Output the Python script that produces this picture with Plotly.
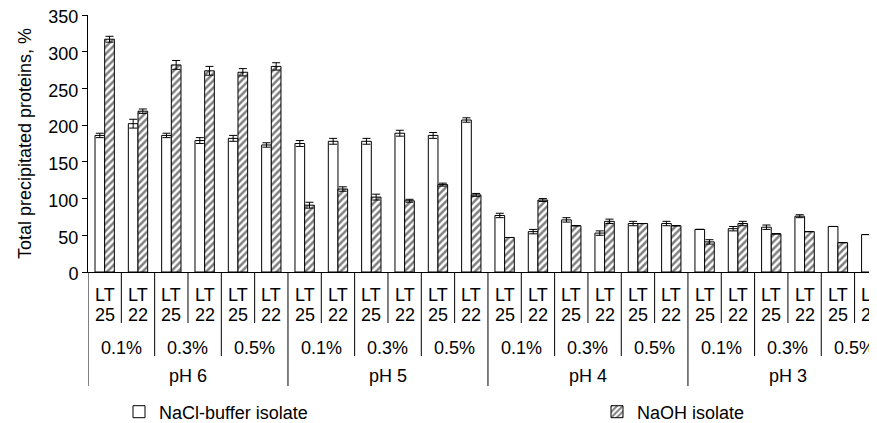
import plotly.graph_objects as go

# ---- data ----
ph_labels = ["pH 6", "pH 5", "pH 4", "pH 3"]
conc_labels = ["0.1%", "0.3%", "0.5%"]
lt_labels = ["25", "22"]

nacl = [186, 202, 186, 179, 182, 173,
        175, 178, 178, 189, 186, 207,
        77, 55, 71, 53, 66, 66,
        58, 59, 61, 76, 62, 51]
naoh = [317, 219, 282, 274, 272, 280,
        91, 113, 102, 97, 119, 105,
        47, 98, 63, 69, 66, 63,
        41, 66, 52, 55, 40, 51]
nacl_err = [3, 6, 3, 4, 4, 3,
            4, 4, 4, 4, 4, 3,
            3, 3, 3, 3, 3, 3,
            0, 3, 3, 2, 0, 0]
naoh_err = [4, 3, 6, 6, 5, 5,
            4, 3, 4, 2, 2, 2,
            0, 2, 0, 3, 0, 0,
            3, 3, 0, 0, 0, 0]

series_names = ["NaCl-buffer isolate", "NaOH isolate"]
y_title = "Total precipitated proteins, %"

# ---- layout helpers ----
W, H = 877, 423
OFF = 8                      # page body margin of the html page
ML = 88 - OFF                # y axis at page x=88
MT = 15 - OFF                # top of axis at page y=15
ZERO = 272 - OFF             # zero line at page y=272
MB = H - ZERO
PLOT_H = ZERO - MT
PLOT_W = W - ML
CAT_W = 33.33
FONT = "Liberation Sans, Arial, sans-serif"
FS = 18

def py(p):
    """page pixel row -> paper y"""
    return (ZERO - (p - OFF)) / PLOT_H

def px(p):
    """page pixel column -> paper x"""
    return ((p - OFF) - ML) / PLOT_W

n = len(nacl)
xs = list(range(n))

fig = go.Figure()
fig.add_trace(go.Bar(
    x=xs, y=nacl, name=series_names[0],
    marker=dict(color="white", line=dict(color="black", width=1)),
    error_y=dict(type="data", array=nacl_err, color="black", thickness=1, width=4),
    legend="legend",
))
fig.add_trace(go.Bar(
    x=xs, y=naoh, name=series_names[1],
    marker=dict(color="white", line=dict(color="black", width=1),
                pattern=dict(shape="/", fgcolor="black", bgcolor="white", size=5, solidity=0.5)),
    error_y=dict(type="data", array=naoh_err, color="black", thickness=1, width=4),
    legend="legend2",
))

# category labels
annotations = []
shapes = []
idx = 0
for pi, ph in enumerate(ph_labels):
    for ci, conc in enumerate(conc_labels):
        for li, lt in enumerate(lt_labels):
            annotations.append(dict(x=idx, y=py(294.5), xref="x", yref="paper", text="LT",
                                    showarrow=False, yanchor="middle", xanchor="center"))
            annotations.append(dict(x=idx, y=py(314.5), xref="x", yref="paper", text=lt,
                                    showarrow=False, yanchor="middle", xanchor="center"))
            idx += 1
        annotations.append(dict(x=idx - 1.5, y=py(347.5), xref="x", yref="paper", text=conc,
                                showarrow=False, yanchor="middle", xanchor="center"))
    annotations.append(dict(x=idx - 3.5, y=py(375.5), xref="x", yref="paper", text=ph,
                            showarrow=False, yanchor="middle", xanchor="center"))

# separator lines
for k in range(n + 1):
    if k % 6 == 0:
        end = 386
    elif k % 2 == 0:
        end = 356
    else:
        end = 323
    shapes.append(dict(type="line", xref="x", yref="paper", x0=k - 0.5, x1=k - 0.5,
                       y0=0, y1=py(end), line=dict(color="black", width=1)))

x_right = -0.5 + PLOT_W / CAT_W

fig.update_layout(
    width=W, height=H,
    margin=dict(l=ML, r=0, t=MT, b=MB, autoexpand=False),
    paper_bgcolor="white", plot_bgcolor="white",
    font=dict(family=FONT, size=FS, color="black"),
    barmode="group", bargap=0.42, bargroupgap=0,
    annotations=annotations, shapes=shapes,
    xaxis=dict(range=[-0.5, x_right], showticklabels=False, showgrid=False, zeroline=False,
               showline=True, linecolor="black", linewidth=1, ticks="", automargin=False),
    yaxis=dict(range=[0, 350], dtick=50, showgrid=False, zeroline=False,
               showline=True, linecolor="black", linewidth=1, automargin=False,
               ticks="outside", ticklen=5, tickcolor="black",
               ticklabeloverflow="allow", ticklabelshift=2,
               title=dict(text=y_title, standoff=12, font=dict(size=FS))),
    legend=dict(orientation="h", x=px(119), y=py(412), xanchor="left",
                yanchor="middle", bgcolor="rgba(0,0,0,0)", font=dict(size=FS)),
    legend2=dict(orientation="h", x=px(597), y=py(412), xanchor="left",
                 yanchor="middle", bgcolor="rgba(0,0,0,0)", font=dict(size=FS)),
    showlegend=True,
)

fig.write_html("out.html")
